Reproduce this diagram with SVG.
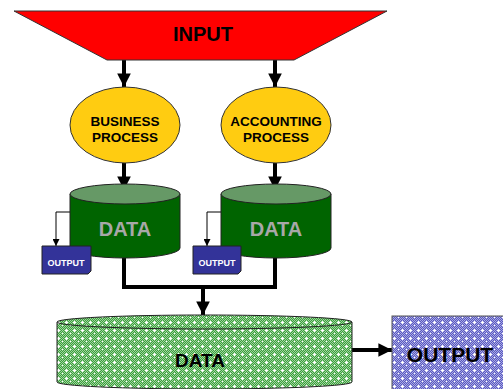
<svg xmlns="http://www.w3.org/2000/svg" width="503" height="389" viewBox="0 0 503 389">
<style>
text{font-family:"Liberation Sans",Arial,sans-serif;font-weight:bold;text-anchor:middle}
.thick{stroke:#000;stroke-width:4;fill:none}
.thin{stroke:#000;stroke-width:1;fill:none}
.proc{fill:#FFCC11;stroke:#333;stroke-width:1}
.cylb{fill:#006400;stroke:#222;stroke-width:1}
.cylt{fill:#669966;stroke:#222;stroke-width:1}
.doc{fill:#333399;stroke:#222;stroke-width:1}
</style>
<defs>
<marker id="ah" viewBox="0 0 10 10" refX="10" refY="5" markerWidth="3.4" markerHeight="3.4" orient="auto" markerUnits="strokeWidth"><path d="M0,0 L10,5 L0,10 Z" fill="#000"/></marker>
<marker id="ahs" viewBox="0 0 10 10" refX="10" refY="5" markerWidth="7" markerHeight="7" orient="auto" markerUnits="strokeWidth"><path d="M0,0 L10,5 L0,10 Z" fill="#000"/></marker>
<pattern id="pg" width="8" height="8" patternUnits="userSpaceOnUse">
<rect width="8" height="8" fill="#3C9E3C"/>
<path d="M0,0h1v1h-1zM2,0h1v1h-1zM4,0h1v1h-1zM6,0h1v1h-1zM1,1h1v1h-1zM3,1h1v1h-1zM5,1h1v1h-1zM7,1h1v1h-1zM0,2h1v1h-1zM2,2h1v1h-1zM4,2h1v1h-1zM6,2h1v1h-1zM1,3h1v1h-1zM3,3h1v1h-1zM5,3h1v1h-1zM7,3h1v1h-1zM0,4h1v1h-1zM2,4h1v1h-1zM4,4h1v1h-1zM6,4h1v1h-1zM1,5h1v1h-1zM3,5h1v1h-1zM5,5h1v1h-1zM7,5h1v1h-1zM0,6h1v1h-1zM2,6h1v1h-1zM4,6h1v1h-1zM6,6h1v1h-1zM1,7h1v1h-1zM3,7h1v1h-1zM5,7h1v1h-1zM7,7h1v1h-1z" fill="#9ED69E"/>
<path d="M2,1h1v3h-1zM1,2h3v1h-3z" fill="#fff"/>
<path d="M6,5h1v1h-1z" fill="#fff"/>
</pattern>
<pattern id="pp" width="8" height="8" patternUnits="userSpaceOnUse">
<rect width="8" height="8" fill="#5A5AC0"/>
<path d="M0,0h1v1h-1zM2,0h1v1h-1zM4,0h1v1h-1zM6,0h1v1h-1zM1,1h1v1h-1zM3,1h1v1h-1zM5,1h1v1h-1zM7,1h1v1h-1zM0,2h1v1h-1zM2,2h1v1h-1zM4,2h1v1h-1zM6,2h1v1h-1zM1,3h1v1h-1zM3,3h1v1h-1zM5,3h1v1h-1zM7,3h1v1h-1zM0,4h1v1h-1zM2,4h1v1h-1zM4,4h1v1h-1zM6,4h1v1h-1zM1,5h1v1h-1zM3,5h1v1h-1zM5,5h1v1h-1zM7,5h1v1h-1zM0,6h1v1h-1zM2,6h1v1h-1zM4,6h1v1h-1zM6,6h1v1h-1zM1,7h1v1h-1zM3,7h1v1h-1zM5,7h1v1h-1zM7,7h1v1h-1z" fill="#A8A8E4"/>
<path d="M2,1h1v3h-1zM1,2h3v1h-3z" fill="#fff"/>
<path d="M6,5h1v1h-1z" fill="#fff"/>
</pattern>
</defs>

<g id="connectors">
<line class="thick" x1="124" y1="60" x2="124" y2="87" marker-end="url(#ah)"/>
<line class="thick" x1="275" y1="60" x2="275" y2="87" marker-end="url(#ah)"/>
<line class="thick" x1="124" y1="163" x2="124" y2="190" marker-end="url(#ah)"/>
<line class="thick" x1="275" y1="163" x2="275" y2="190" marker-end="url(#ah)"/>
<polyline class="thin" points="70,212 56,212 56,246" marker-end="url(#ahs)"/>
<polyline class="thin" points="221,212 207,212 207,246" marker-end="url(#ahs)"/>
<polyline class="thick" points="124,258 124,287 275,287 275,258"/>
<line class="thick" x1="203" y1="287" x2="203" y2="315" marker-end="url(#ah)"/>
<line class="thick" x1="352" y1="350" x2="392" y2="350" marker-end="url(#ah)"/>
</g>

<g id="input">
<polygon points="14,11 387,11 294,60 107,60" fill="#FF0000" stroke="#333" stroke-width="1"/>
<text x="203" y="41" font-size="20">INPUT</text>
</g>

<g id="business-process">
<ellipse class="proc" cx="125" cy="125" rx="55" ry="38"/>
<text x="125" y="126" font-size="13.5">BUSINESS</text>
<text x="125" y="142" font-size="13.5">PROCESS</text>
</g>

<g id="accounting-process">
<ellipse class="proc" cx="276" cy="125" rx="55" ry="38"/>
<text x="276" y="126" font-size="13.5">ACCOUNTING</text>
<text x="276" y="142" font-size="13.5">PROCESS</text>
</g>

<g id="data1">
<path class="cylb" d="M70,194 L70,248 A55,10 0 0 0 180,248 L180,194 Z"/>
<ellipse class="cylt" cx="125" cy="194" rx="55" ry="10"/>
<text x="125" y="236" font-size="20" fill="#A8A8A8">DATA</text>
</g>

<g id="data2">
<path class="cylb" d="M221,194 L221,248 A55,10 0 0 0 331,248 L331,194 Z"/>
<ellipse class="cylt" cx="276" cy="194" rx="55" ry="10"/>
<text x="276" y="236" font-size="20" fill="#A8A8A8">DATA</text>
</g>

<g id="output1">
<path class="doc" d="M42,246 L91,246 L91,271 L88,274 L42,274 Z"/>
<text x="66" y="266" font-size="9" fill="#fff">OUTPUT</text>
</g>

<g id="output2">
<path class="doc" d="M193,246 L241,246 L241,271 L238,274 L193,274 Z"/>
<text x="217" y="266" font-size="9" fill="#fff">OUTPUT</text>
</g>

<g id="data-store">
<path d="M57,322 L57,382 A147.5,7 0 0 0 352,382 L352,322 Z" fill="url(#pg)" stroke="#222" stroke-width="1"/>
<ellipse cx="204.5" cy="322" rx="147.5" ry="7" fill="url(#pg)" stroke="#222" stroke-width="1"/>
<text x="200" y="367" font-size="19" fill="#000">DATA</text>
</g>

<g id="output-final">
<rect x="392" y="316" width="120" height="80" fill="url(#pp)" stroke="#555" stroke-width="1"/>
<text x="450" y="362" font-size="21" fill="#000">OUTPUT</text>
</g>
</svg>
